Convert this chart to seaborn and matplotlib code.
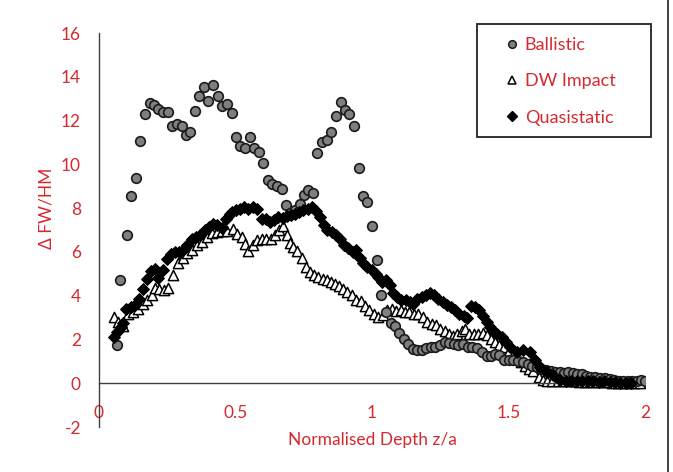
import matplotlib
matplotlib.use("Agg")
import matplotlib.pyplot as plt
import seaborn as sns
import pandas as pd
from matplotlib.lines import Line2D
from matplotlib.patches import Rectangle

# ---------------- data ----------------
ballistic_x = [0.066, 0.077, 0.103, 0.117, 0.136, 0.150, 0.168, 0.187, 0.203, 0.217, 0.236, 0.254,
               0.266, 0.285, 0.303, 0.319, 0.333, 0.352, 0.367, 0.385, 0.400, 0.419, 0.435, 0.449,
               0.468, 0.486, 0.502, 0.516, 0.535, 0.553, 0.568, 0.586, 0.602, 0.620, 0.635, 0.651,
               0.669, 0.685, 0.700, 0.718, 0.736, 0.751, 0.767, 0.785, 0.800, 0.818, 0.834, 0.849,
               0.867, 0.885, 0.901, 0.917, 0.934, 0.952, 0.968, 0.983, 1.001, 1.019, 1.033, 1.051,
               1.068, 1.084, 1.100, 1.117, 1.133, 1.151, 1.166, 1.182, 1.198, 1.215, 1.231, 1.249,
               1.267, 1.283, 1.300, 1.316, 1.334, 1.353, 1.368, 1.386, 1.402, 1.420, 1.435, 1.451,
               1.466, 1.484, 1.500, 1.518, 1.536, 1.553, 1.570, 1.587, 1.604, 1.620, 1.637, 1.655,
               1.670, 1.687, 1.703, 1.719, 1.736, 1.752, 1.768, 1.784, 1.800, 1.818, 1.835, 1.852,
               1.870, 1.886, 1.903, 1.920, 1.937, 1.953, 1.970, 1.986, 2.000]
ballistic_y = [1.74, 4.70, 6.77, 8.55, 9.37, 11.08, 12.28, 12.81, 12.71, 12.53, 12.37, 12.40,
               11.76, 11.82, 11.75, 11.34, 11.46, 12.45, 13.12, 13.55, 12.89, 13.62, 13.13, 12.68,
               12.75, 12.36, 11.23, 10.83, 10.76, 11.23, 10.73, 10.57, 10.04, 9.28, 9.12, 9.00,
               8.87, 8.14, 7.78, 7.90, 8.17, 8.59, 8.85, 8.70, 10.50, 11.03, 11.11, 11.49,
               12.22, 12.86, 12.48, 12.30, 11.76, 9.84, 8.55, 8.29, 7.19, 5.65, 4.02, 3.26,
               2.73, 2.60, 2.30, 2.04, 1.81, 1.58, 1.54, 1.54, 1.63, 1.66, 1.66, 1.74,
               1.89, 1.84, 1.78, 1.74, 1.81, 1.66, 1.66, 1.59, 1.43, 1.23, 1.23, 1.33,
               1.28, 1.08, 1.05, 1.05, 1.00, 0.95, 0.90, 0.80, 0.72, 0.65, 0.60, 0.55,
               0.52, 0.50, 0.48, 0.52, 0.48, 0.44, 0.40, 0.32, 0.30, 0.28, 0.26, 0.22,
               0.18, 0.15, 0.12, 0.11, 0.10, 0.12, 0.10, 0.13, 0.12]

dw_x = [0.055, 0.071, 0.087, 0.108, 0.126, 0.144, 0.160, 0.174, 0.193, 0.205, 0.221, 0.238,
        0.254, 0.270, 0.290, 0.306, 0.323, 0.340, 0.358, 0.376, 0.394, 0.413, 0.431, 0.449,
        0.468, 0.490, 0.507, 0.523, 0.535, 0.547, 0.563, 0.578, 0.596, 0.612, 0.629, 0.645,
        0.660, 0.673, 0.688, 0.700, 0.712, 0.724, 0.742, 0.758, 0.773, 0.788, 0.803, 0.819,
        0.834, 0.849, 0.864, 0.880, 0.895, 0.909, 0.925, 0.941, 0.959, 0.974, 0.990, 1.007,
        1.023, 1.039, 1.054, 1.072, 1.088, 1.105, 1.121, 1.137, 1.154, 1.170, 1.186, 1.200,
        1.219, 1.234, 1.249, 1.267, 1.283, 1.298, 1.312, 1.329, 1.341, 1.356, 1.374, 1.389,
        1.405, 1.420, 1.435, 1.451, 1.466, 1.484, 1.500, 1.515, 1.530, 1.545, 1.560, 1.575,
        1.590, 1.610, 1.626, 1.640, 1.660, 1.680, 1.700, 1.720, 1.740, 1.760, 1.780, 1.800,
        1.820, 1.840, 1.860, 1.880, 1.900, 1.920, 1.940, 1.960, 1.980]
dw_y = [3.03, 2.80, 2.61, 3.18, 3.26, 3.41, 3.64, 3.79, 4.02, 4.37, 4.32, 4.28,
        4.37, 4.94, 5.47, 5.74, 5.95, 6.10, 6.31, 6.46, 6.69, 6.87, 6.92, 6.96,
        6.95, 7.03, 6.84, 6.69, 6.35, 6.05, 6.31, 6.54, 6.57, 6.57, 6.61, 6.79,
        7.02, 7.18, 6.77, 6.41, 6.23, 6.05, 5.74, 5.29, 5.09, 4.96, 4.86, 4.78,
        4.71, 4.63, 4.53, 4.43, 4.32, 4.17, 4.02, 3.82, 3.76, 3.52, 3.34, 3.18,
        3.03, 3.11, 3.34, 3.37, 3.31, 3.34, 3.26, 3.26, 3.18, 3.18, 3.03, 2.80,
        2.70, 2.65, 2.50, 2.39, 2.27, 2.15, 2.27, 2.39, 2.50, 2.27, 2.27, 2.27,
        2.30, 2.19, 2.00, 1.89, 1.74, 1.66, 1.45, 1.30, 1.10, 0.95, 0.80, 0.65,
        0.55, 0.29, 0.14, 0.10, 0.08, 0.10, 0.08, 0.10, 0.08, 0.06, 0.07, 0.05,
        0.06, 0.05, 0.04, 0.03, 0.03, 0.02, 0.02, 0.03, 0.02]

quasi_x = [0.055, 0.067, 0.079, 0.089, 0.099, 0.116, 0.132, 0.148, 0.160, 0.174, 0.189, 0.205,
           0.217, 0.233, 0.248, 0.262, 0.278, 0.294, 0.309, 0.323, 0.340, 0.355, 0.370, 0.388,
           0.404, 0.419, 0.433, 0.449, 0.465, 0.480, 0.486, 0.502, 0.516, 0.531, 0.547, 0.563,
           0.578, 0.596, 0.612, 0.626, 0.641, 0.657, 0.673, 0.688, 0.702, 0.718, 0.734, 0.748,
           0.767, 0.782, 0.795, 0.810, 0.824, 0.836, 0.852, 0.868, 0.883, 0.897, 0.913, 0.929,
           0.941, 0.956, 0.968, 0.983, 0.999, 1.015, 1.023, 1.036, 1.051, 1.066, 1.078, 1.093,
           1.108, 1.125, 1.139, 1.151, 1.166, 1.182, 1.198, 1.212, 1.227, 1.243, 1.259, 1.273,
           1.288, 1.304, 1.320, 1.337, 1.349, 1.361, 1.377, 1.393, 1.405, 1.420, 1.432, 1.444,
           1.459, 1.475, 1.491, 1.505, 1.530, 1.554, 1.579, 1.597, 1.615, 1.640, 1.664, 1.689,
           1.710, 1.730, 1.750, 1.770, 1.790, 1.810, 1.830, 1.850, 1.870, 1.890, 1.910, 1.930,
           1.950]
quasi_y = [2.12, 2.35, 2.57, 2.76, 3.37, 3.49, 3.57, 3.87, 4.32, 4.78, 5.13, 5.24,
           4.82, 5.19, 5.69, 5.89, 6.00, 6.00, 6.08, 6.31, 6.57, 6.69, 6.77, 6.99,
           7.15, 7.27, 7.22, 7.11, 7.52, 7.75, 7.83, 7.91, 7.98, 8.06, 7.94, 8.06,
           7.98, 7.52, 7.48, 7.37, 7.45, 7.60, 7.57, 7.63, 7.68, 7.75, 7.83, 7.91,
           7.98, 8.06, 7.88, 7.60, 7.22, 6.99, 6.92, 6.77, 6.61, 6.31, 6.16, 6.00,
           6.08, 5.74, 5.47, 5.29, 5.17, 5.01, 4.86, 4.63, 4.71, 4.48, 4.10, 3.95,
           3.82, 3.79, 3.72, 3.64, 3.87, 3.95, 4.02, 4.10, 4.02, 3.87, 3.72, 3.57,
           3.46, 3.34, 3.18, 3.06, 3.00, 3.52, 3.46, 3.34, 3.06, 2.80, 2.57, 2.39,
           2.27, 2.12, 1.89, 1.66, 1.43, 1.51, 1.43, 1.05, 0.75, 0.52, 0.37, 0.14,
           0.10, 0.08, 0.10, 0.12, 0.10, 0.08, 0.06, 0.10, 0.05, 0.04, 0.03, 0.02,
           0.02]

series_names = ["Ballistic", "DW Impact", "Quasistatic"]
x_ticks = [0, 0.5, 1, 1.5, 2]
x_tick_labels = ["0", "0.5", "1", "1.5", "2"]
y_ticks = [-2, 0, 2, 4, 6, 8, 10, 12, 14, 16]
y_tick_labels = ["-2", "0", "2", "4", "6", "8", "10", "12", "14", "16"]
x_label = "Normalised Depth z/a"
y_label = "\u0394 FW/HM"

# ---------------- style ----------------
sns.set_style("white")
plt.rcParams["font.family"] = ["Lato", "DejaVu Sans"]
plt.rcParams["axes.unicode_minus"] = False
RED = "#D42A30"
AXC = "#404040"

W, H = 673, 472
fig = plt.figure(figsize=(W / 100, H / 100), dpi=100)
ax = fig.add_axes([99 / W, 1 - 427 / H, (645 - 99) / W, (427 - 33) / H])

df_b = pd.DataFrame({"x": ballistic_x, "y": ballistic_y})
df_d = pd.DataFrame({"x": dw_x, "y": dw_y})
df_q = pd.DataFrame({"x": quasi_x, "y": quasi_y})

sns.scatterplot(data=df_b, x="x", y="y", ax=ax, marker="o", s=48, color="#7f7f7f",
                edgecolor="#1a1a1a", linewidth=1.2, zorder=3, legend=False)
sns.scatterplot(data=df_d, x="x", y="y", ax=ax, marker="^", s=54, color="white",
                edgecolor="black", linewidth=1.1, zorder=2, legend=False)
sns.scatterplot(data=df_q, x="x", y="y", ax=ax, marker="D", s=36, color="black",
                edgecolor="black", linewidth=0.8, zorder=4, legend=False)

ax.set_xlim(0, 2)
ax.set_ylim(-2, 16)
ax.set_xticks(x_ticks)
ax.set_xticklabels(x_tick_labels)
ax.set_yticks(y_ticks)
ax.set_yticklabels(y_tick_labels)

for s in ["top", "right"]:
    ax.spines[s].set_visible(False)
ax.spines["bottom"].set_position(("data", 0))
for s in ["left", "bottom"]:
    ax.spines[s].set_color(AXC)
    ax.spines[s].set_linewidth(1.0)

ax.tick_params(axis="both", which="major", direction="out", length=5, width=1.0,
               color=AXC, labelcolor=RED, labelsize=12.5)
ax.tick_params(axis="x", pad=11)
ax.tick_params(axis="y", pad=8)

ax.set_xlabel(x_label, color=RED, fontsize=12.5)
ax.set_ylabel(y_label, color=RED, fontsize=12.5)
ax.xaxis.set_label_coords(0.5, (427 - 440) / (427 - 33), transform=ax.transAxes)
ax.xaxis.label.set_verticalalignment("center")
ax.yaxis.set_label_coords((47 - 99) / (645 - 99), (427 - 208) / (427 - 33))
ax.yaxis.label.set_verticalalignment("center")

# legend box drawn explicitly
fig.add_artist(Rectangle((477 / W, 1 - 137 / H), (651 - 477) / W, (137 - 24) / H,
                         transform=fig.transFigure, facecolor="white",
                         edgecolor="#222222", linewidth=1.3, zorder=5))

handles = [
    Line2D([], [], linestyle="none", marker="o", markersize=5.5, markerfacecolor="#7f7f7f",
           markeredgecolor="#1a1a1a", markeredgewidth=1.1),
    Line2D([], [], linestyle="none", marker="^", markersize=6, markerfacecolor="white",
           markeredgecolor="black", markeredgewidth=1.1),
    Line2D([], [], linestyle="none", marker="D", markersize=5, markerfacecolor="black",
           markeredgecolor="black"),
]
leg = fig.legend(handles, series_names, loc="upper left",
                 bbox_to_anchor=(505 / W, 1 - 37 / H), bbox_transform=fig.transFigure,
                 frameon=False, fontsize=13, labelspacing=1.13,
                 handlelength=0.8, handletextpad=0.3, borderpad=0, borderaxespad=0,
                 labelcolor=RED)
leg.set_zorder(6)

# outer frame line of the chart area
fig.add_artist(Line2D([668 / W, 668 / W], [0, 1], transform=fig.transFigure,
                      color="#222222", linewidth=1.2))

fig.savefig("out.png", dpi=100)
